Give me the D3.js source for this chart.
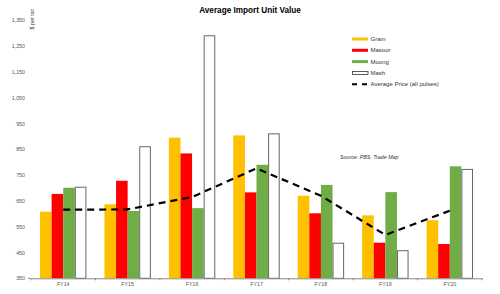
<!DOCTYPE html>
<html>
<head>
<meta charset="utf-8">
<script src="https://cdn.jsdelivr.net/npm/d3@7"></script>
<style>
  body { margin: 0; background: #fff; }
  text { font-family: "Liberation Sans", Arial, sans-serif; }
</style>
</head>
<body>
<div id="chart"></div>
<script>
// data ($ per ton)
const years = ["FY14", "FY15", "FY16", "FY17", "FY18", "FY19", "FY20"];
const gram = [608, 637, 895, 904, 670, 594, 575];
const masoor = [677, 728, 834, 683, 602, 488, 483];
const moong = [701, 611, 622, 790, 712, 684, 784];
const mash = [703, 860, 1290, 910, 486, 457, 772];
const avgPrice = [616, 617, 665, 776, 670, 518, 612];
const yTicks = [350, 450, 550, 650, 750, 850, 950, 1050, 1150, 1250, 1350];

const seriesNames = ["Gram", "Masoor", "Moong", "Mash"];
const seriesVals = [gram, masoor, moong, mash];
const colors = ["#FFC000", "#FF0000", "#70AD47", "#FFFFFF"];

const W = 500, H = 294;
const svg = d3.select("#chart").append("svg")
    .attr("width", W).attr("height", H);

const x = d3.scaleBand().domain(years).range([31, 482]).paddingInner(0.28).paddingOuter(0.14);
const xBand = d3.scaleBand().domain(years).range([31, 482]);
const xSub = d3.scaleBand().domain(seriesNames).range([0, x.bandwidth()]);
const y = d3.scaleLinear().domain([350, 1350]).range([278.3, 20.3]);

// title
svg.append("text")
    .attr("x", 250).attr("y", 13)
    .attr("text-anchor", "middle")
    .style("font-size", "8.2px").style("font-weight", "bold")
    .text("Average Import Unit Value");

// y tick labels
svg.selectAll(".ytick").data(yTicks).enter().append("text")
    .attr("x", 25).attr("y", d => y(d) + 2)
    .attr("text-anchor", "end")
    .style("font-size", "5.3px").attr("fill", "#555")
    .text(d => d3.format(",")(d));

svg.append("text")
    .attr("transform", "translate(34,19) rotate(-90)")
    .attr("text-anchor", "middle")
    .style("font-size", "5.3px").attr("fill", "#444")
    .text("$ per ton");

// bars
const groups = svg.selectAll(".grp").data(years).enter().append("g")
    .attr("transform", d => `translate(${x(d)},0)`);

seriesNames.forEach(function(s, si) {
    groups.append("rect")
        .attr("x", xSub(s) + (si == 3 ? 0.5 : 0))
        .attr("width", xSub.bandwidth() - (si == 3 ? 1 : 0))
        .attr("y", (d, i) => y(seriesVals[si][i]))
        .attr("height", (d, i) => y(350) - y(seriesVals[si][i]))
        .attr("fill", colors[si])
        .attr("stroke", si == 3 ? "#666" : "none")
        .attr("stroke-width", 1);
});

// x axis
const xAxis = d3.axisBottom(xBand).tickSize(0).tickPadding(4);
const gx = svg.append("g").attr("transform", `translate(0,${y(350)})`).call(xAxis);
gx.select(".domain").attr("stroke", "#888");
gx.selectAll("text").style("font-size", "5.3px").attr("fill", "#555")
    .style("font-family", "Liberation Sans, Arial, sans-serif");
svg.selectAll(".xtick").data(d3.range(years.length + 1)).enter().append("line")
    .attr("x1", i => 31 + i * xBand.step()).attr("x2", i => 31 + i * xBand.step())
    .attr("y1", y(350)).attr("y2", y(350) + 2)
    .attr("stroke", "#888");
svg.append("line").attr("x1", 28).attr("x2", 31)
    .attr("y1", y(350)).attr("y2", y(350)).attr("stroke", "#888");

// average price line
const line = d3.line()
    .x((d, i) => xBand(years[i]) + xBand.bandwidth() / 2)
    .y(d => y(d));
svg.append("path").datum(avgPrice)
    .attr("d", line)
    .attr("fill", "none").attr("stroke", "#000")
    .attr("stroke-width", 2.2).attr("stroke-dasharray", "7,5");

// source note
svg.append("text")
    .attr("x", 340).attr("y", 159)
    .style("font-size", "5.3px").style("font-style", "italic").attr("fill", "#333")
    .text("Source: PBS, Trade Map");

// legend
const lg = svg.append("g").attr("transform", "translate(352,39)");
seriesNames.forEach(function(s, i) {
    if (i < 3) {
        lg.append("rect").attr("x", 0).attr("y", i * 11.3 - 1.5)
            .attr("width", 16).attr("height", 3).attr("fill", colors[i]);
    } else {
        lg.append("rect").attr("x", 0.5).attr("y", i * 11.3 - 1.5)
            .attr("width", 15.5).attr("height", 3)
            .attr("fill", "#fff").attr("stroke", "#333").attr("stroke-width", 0.8);
    }
    lg.append("text").attr("x", 18.5).attr("y", i * 11.3 + 2)
        .style("font-size", "6px").attr("fill", "#333").text(s);
});
lg.append("line").attr("x1", 0).attr("x2", 16)
    .attr("y1", 4 * 11.3).attr("y2", 4 * 11.3)
    .attr("stroke", "#000").attr("stroke-width", 2).attr("stroke-dasharray", "5,5");
lg.append("text").attr("x", 18.5).attr("y", 4 * 11.3 + 2)
    .style("font-size", "6px").attr("fill", "#333").text("Average Price (all pulses)");
</script>
</body>
</html>
